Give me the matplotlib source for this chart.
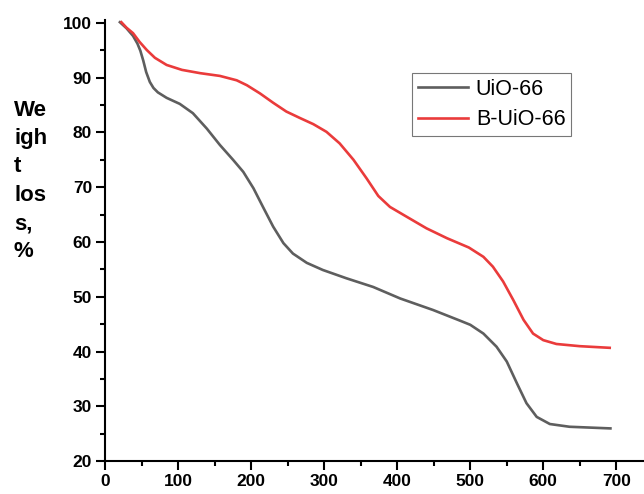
import matplotlib
matplotlib.use("Agg")
import matplotlib.pyplot as plt
from matplotlib.ticker import MultipleLocator

# 温度 (°C) 与失重数据
uio_temp = [20, 29, 38, 44, 48, 52, 56, 61, 66, 72, 84, 102, 120, 139, 157, 175,
            189, 203, 216, 230, 244, 257, 276, 298, 330, 367, 404, 449, 487, 500,
            518, 536, 550, 564, 577, 591, 609, 636, 692]
uio_weight = [100.1, 99.0, 97.6, 96.2, 94.9, 93.1, 91.0, 89.2, 88.1, 87.3, 86.3,
              85.2, 83.5, 80.7, 77.7, 75.0, 72.8, 69.8, 66.4, 62.8, 59.8, 57.9,
              56.2, 54.9, 53.4, 51.8, 49.7, 47.6, 45.6, 44.9, 43.3, 40.9, 38.2,
              34.2, 30.6, 28.1, 26.8, 26.3, 26.0]

buio_temp = [22, 29, 38, 47, 57, 68, 84, 105, 130, 157, 180, 194, 212, 230, 248,
             267, 285, 303, 321, 340, 358, 374, 390, 413, 440, 468, 498, 518,
             531, 545, 559, 573, 586, 600, 618, 650, 691]
buio_weight = [100.1, 99.1, 98.1, 96.5, 95.0, 93.6, 92.3, 91.4, 90.8, 90.3, 89.5,
               88.6, 87.1, 85.4, 83.8, 82.6, 81.5, 80.1, 78.0, 75.0, 71.6, 68.4,
               66.4, 64.6, 62.5, 60.7, 59.0, 57.3, 55.5, 52.8, 49.4, 45.8, 43.3,
               42.1, 41.4, 41.0, 40.7]

series_names = ["UiO-66", "B-UiO-66"]
x_ticks = [0, 100, 200, 300, 400, 500, 600, 700]
y_ticks = [20, 30, 40, 50, 60, 70, 80, 90, 100]
y_label = "We\nigh\nt\nlos\ns,\n%"

plt.rcParams['font.family'] = ['Liberation Sans', 'DejaVu Sans']


def plot_tga(output_path):
    fig = plt.figure(figsize=(6.44, 4.94), dpi=100)
    ax = fig.add_axes([105.3 / 644, 1 - 461.3 / 494, 1 - 105.3 / 644, (461.3 - 20.0) / 494])

    ax.plot(uio_temp, uio_weight, color='#5e5e5e', linewidth=1.9,
            solid_joinstyle='round', label=series_names[0])
    ax.plot(buio_temp, buio_weight, color='#ea3b3b', linewidth=1.9,
            solid_joinstyle='round', label=series_names[1])

    ax.set_xlim(0, 738)
    ax.set_ylim(20, 100.5)
    ax.set_xticks(x_ticks)
    ax.set_yticks(y_ticks)
    ax.xaxis.set_minor_locator(MultipleLocator(50))
    ax.yaxis.set_minor_locator(MultipleLocator(5))

    # 只保留左、下坐标轴
    ax.spines['top'].set_visible(False)
    ax.spines['right'].set_visible(False)
    for side in ['left', 'bottom']:
        ax.spines[side].set_linewidth(1.5)

    ax.tick_params(which='major', direction='out', length=6.5, width=1.5,
                   labelsize=12.5, pad=3)
    ax.tick_params(which='minor', direction='out', length=3.5, width=1.5)
    for lab in ax.get_xticklabels() + ax.get_yticklabels():
        lab.set_fontweight('bold')

    fig.text(14 / 644, 1 - 181 / 494, y_label, fontsize=16, fontweight='bold',
             ha='left', va='center', multialignment='left', linespacing=1.46)

    leg = ax.legend(loc='upper left', bbox_to_anchor=(412.3 / 644, 1 - 73.3 / 494),
                    bbox_transform=fig.transFigure, fontsize=15.5, frameon=True,
                    fancybox=False, borderpad=0.25, handlelength=2.35,
                    handletextpad=0.35, labelspacing=0.45, borderaxespad=0)
    leg.get_frame().set_edgecolor('#555555')
    leg.get_frame().set_linewidth(0.8)

    fig.savefig(output_path, dpi=100)
    plt.close(fig)


if __name__ == "__main__":
    plot_tga("out.png")
